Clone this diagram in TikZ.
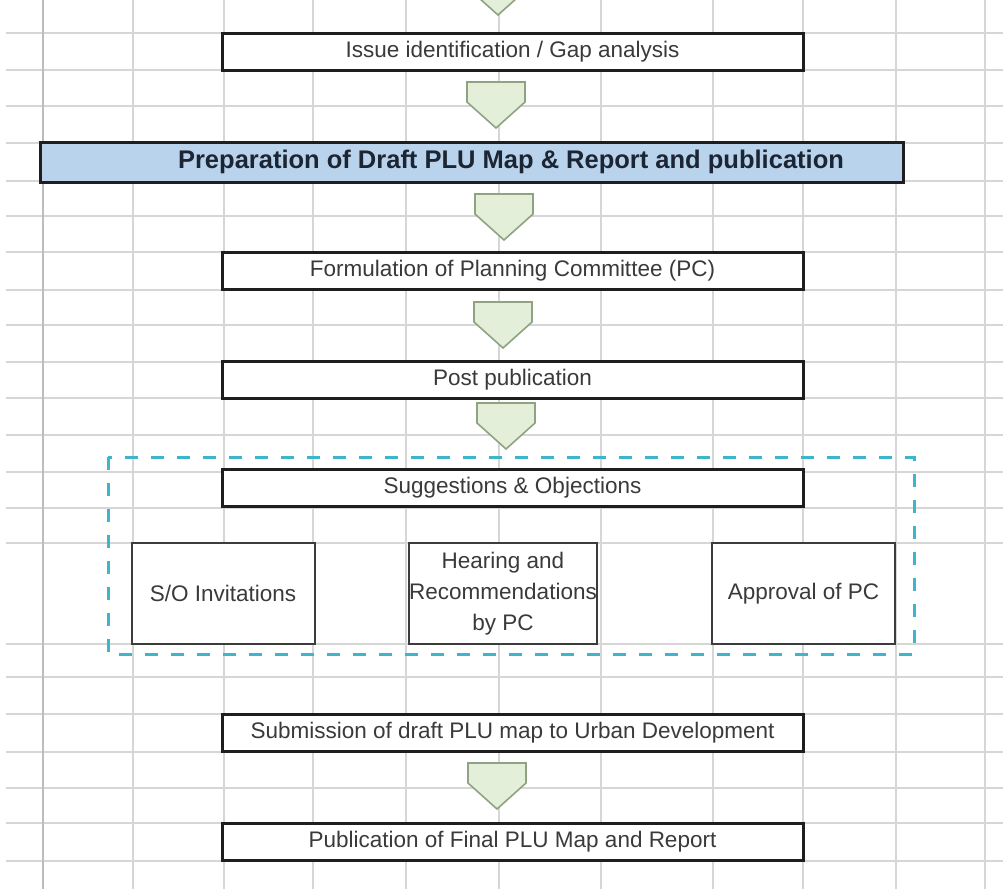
\documentclass[tikz,border=0pt]{standalone}
\usepackage{fontspec}
\setmainfont{Liberation Sans}
\definecolor{gridc}{HTML}{D6D6D6}
\definecolor{gridd}{HTML}{BDBDBD}
\definecolor{boxline}{HTML}{1E1E1E}
\definecolor{smallline}{HTML}{3C3C3C}
\definecolor{txt}{HTML}{3A3A3A}
\definecolor{titletxt}{HTML}{1C2533}
\definecolor{bluefill}{HTML}{B9D3EC}
\definecolor{arrfill}{HTML}{E3EFD9}
\definecolor{arrline}{HTML}{8FA383}
\definecolor{dashc}{HTML}{3DB6CC}
\tikzset{
  widebox/.style={draw=boxline, line width=3pt, fill=white, minimum width=581pt, minimum height=37pt, inner sep=0pt, text=txt, font=\fontsize{22.5}{27}\selectfont},
  smallbox/.style={draw=smallline, line width=2pt, fill=white, minimum width=183pt, minimum height=101pt, inner sep=0pt, text=txt, align=center, font=\fontsize{22.5}{31}\selectfont},
  gridline/.style={draw=gridc, line width=1.4pt},
  blockarr/.pic={\draw[fill=arrfill, draw=arrline, line width=1.6pt, line join=miter] (-29,0) -- (29,0) -- (29,20) -- (0,46) -- (-29,20) -- cycle;}
}
\begin{document}
\begin{tikzpicture}[x=1pt, y=-1pt]
\useasboundingbox (0,0) rectangle (1003,889);
\fill[white] (0,0) rectangle (1003,889);
\begin{scope}
\clip (0,0) rectangle (1003,889);
% spreadsheet grid
\foreach \yy in {33,70,106,143,181,216,252,290,325,362,398,435,472,508,543,644,677,714,752,788,823,861}
  \draw[gridline] (6,\yy) -- (1003,\yy);
\foreach \xx in {133,224,313,406,499,601,713,803,896,985}
  \draw[gridline] (\xx,0) -- (\xx,889);
\draw[draw=gridd, line width=2pt] (43,0) -- (43,889);
% top partial arrow
\pic at (498,-31) {blockarr};
\end{scope}

% main boxes
\node[widebox] (issue) at (512.5,51.5) {Issue identification / Gap analysis};
\node[draw=boxline, line width=3pt, fill=bluefill, minimum width=863pt, minimum height=40pt, inner sep=0pt] (prep) at (471.5,162) {};
\node[text=titletxt, font=\bfseries\fontsize{25.5}{30}\selectfont, inner sep=0pt] (preptext) at (511,162) {Preparation of Draft PLU Map \& Report and publication};
\node[widebox] (form) at (512.5,271) {Formulation of Planning Committee (PC)};
\node[widebox] (post) at (512.5,380) {Post publication};

% dashed group
\draw[dashc, line width=3pt, dash pattern=on 13pt off 13pt] (108,457) rectangle (914,654);
\node[widebox] (sugg) at (512.5,488) {Suggestions \& Objections};
\node[smallbox] (so) at (223,593.5) {S/O Invitations};
\node[smallbox] (hear) at (503,593.5) {Hearing and\\Recommendations\\by PC};
\node[smallbox] (appr) at (803.5,593.5) {Approval of PC};

\node[widebox] (subm) at (512.5,733) {Submission of draft PLU map to Urban Development};
\node[widebox] (publ) at (512.5,842) {Publication of Final PLU Map and Report};

% block arrows between steps
\pic at (496,82) {blockarr};
\pic at (504,194) {blockarr};
\pic at (503,302) {blockarr};
\pic at (506,403) {blockarr};
\pic at (497,763) {blockarr};
\end{tikzpicture}
\end{document}
